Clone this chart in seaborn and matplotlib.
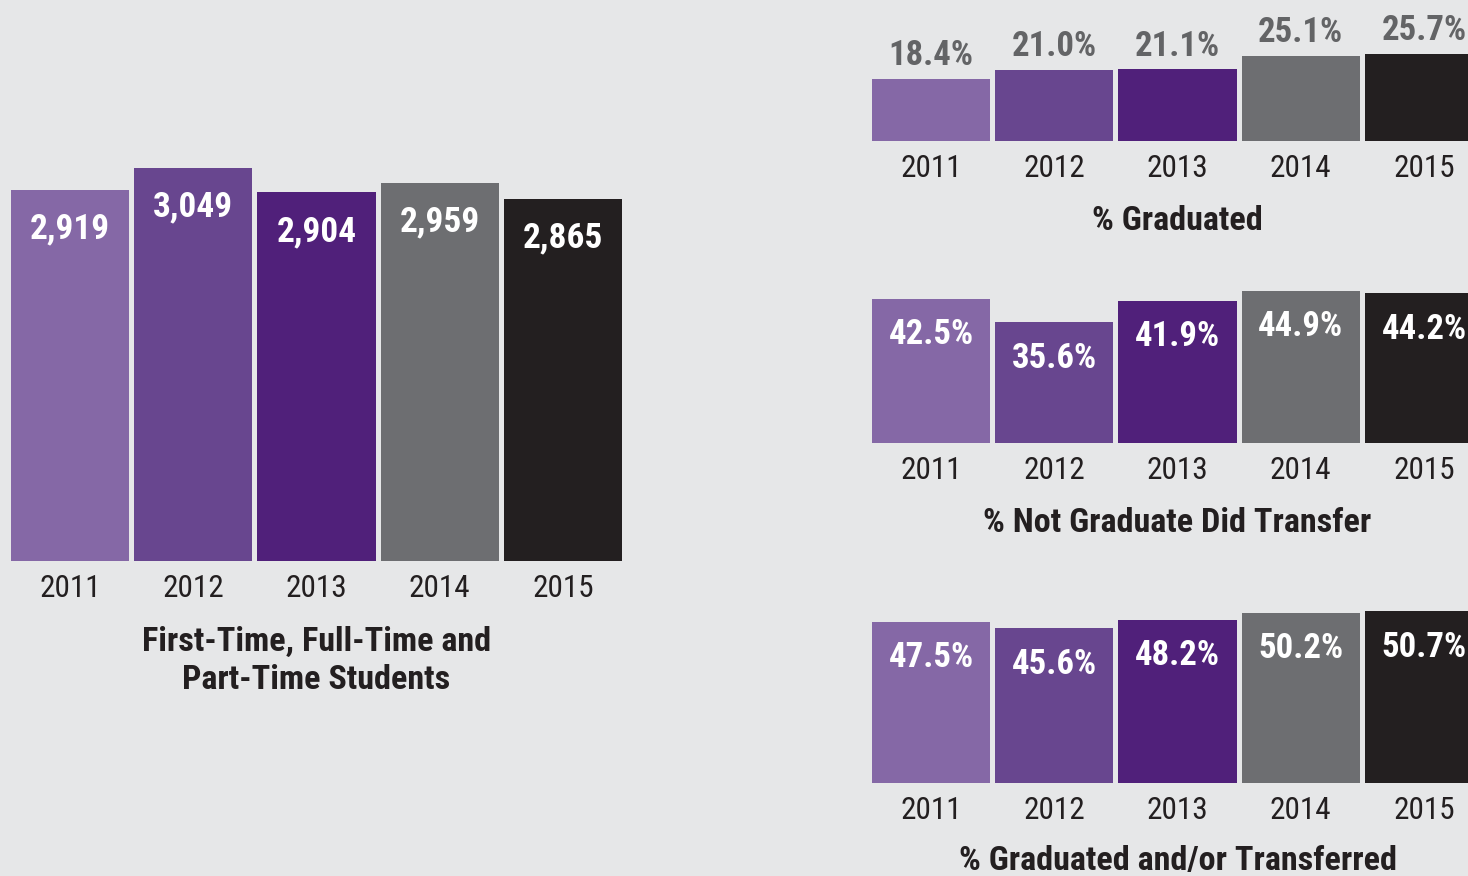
import matplotlib
matplotlib.use('Agg')
import matplotlib.pyplot as plt
import seaborn as sns
import pandas as pd

# data
years = ['2011', '2012', '2013', '2014', '2015']
students = [2919, 3049, 2904, 2959, 2865]
pct_graduated = [18.4, 21.0, 21.1, 25.1, 25.7]
pct_transfer = [42.5, 35.6, 41.9, 44.9, 44.2]
pct_grad_or_transfer = [47.5, 45.6, 48.2, 50.2, 50.7]

titles_right = ['% Graduated', '% Not Graduate Did Transfer', '% Graduated and/or Transferred']
title_left = 'First-Time, Full-Time and\nPart-Time Students'

bar_colors = ['#8568a6', '#68468f', '#50207a', '#6d6e71', '#231f20']
bg = '#e6e7e8'
dark = '#231f20'
gray_txt = '#636466'

sns.set_style('white')
plt.rcParams['font.family'] = ['Roboto Condensed', 'Roboto', 'DejaVu Sans']

W, H = 1468, 876
PT = 0.72  # points per pixel at dpi 100

fig = plt.figure(figsize=(W / 100, H / 100), dpi=100, facecolor=bg)


def px_axes(x0, y0, x1, y1):
    return fig.add_axes([x0 / W, 1 - y1 / H, (x1 - x0) / W, (y1 - y0) / H])


def draw_bars(ax, values, ymin, px_per_unit, height_px):
    df = pd.DataFrame({'year': years, 'value': values})
    sns.barplot(data=df, x='year', y='value', hue='year', palette=bar_colors,
                saturation=1, width=0.96, legend=False, linewidth=0, ax=ax)
    ax.set_xlim(-0.5, 4.5)
    ax.set_ylim(ymin, ymin + height_px / px_per_unit)
    ax.set_facecolor('none')
    for s in ax.spines.values():
        s.set_visible(False)
    ax.set_yticks([])
    ax.set_xlabel('')
    ax.set_ylabel('')
    ax.tick_params(axis='x', length=0, pad=13 * PT, labelsize=22.5, labelcolor=dark)


def value_labels(ax, values, fmt, offset_px, color, size):
    for i, v in enumerate(values):
        ax.annotate(fmt(v), xy=(i, v), xytext=(0, offset_px * PT), textcoords='offset points',
                    ha='center', va='center', color=color, fontsize=size, fontweight='bold')


def title_below(ax, text, offset_px):
    ax.annotate(text, xy=(0.5, 0), xycoords='axes fraction', xytext=(0, -offset_px * PT),
                textcoords='offset points', ha='center', va='center', color=dark,
                fontsize=24.6, fontweight='bold', linespacing=1.27)


# left chart
ax_l = px_axes(8.4, 100, 624.6, 561)
draw_bars(ax_l, students, 710, 0.168, 461)
value_labels(ax_l, students, lambda v: f'{v:,}', -39, 'white', 25.5)
title_below(ax_l, title_left, 100)

# right charts
scale = 3.39
x0, x1 = 869.4, 1485.7
ax_t = px_axes(x0, 0, x1, 141)
draw_bars(ax_t, pct_graduated, 0, scale, 141)
value_labels(ax_t, pct_graduated, lambda v: f'{v:.1f}%', 23, gray_txt, 25)
title_below(ax_t, titles_right[0], 80)

ax_m = px_axes(x0, 250, x1, 443)
draw_bars(ax_m, pct_transfer, 0, scale, 193)
value_labels(ax_m, pct_transfer, lambda v: f'{v:.1f}%', -36, 'white', 25)
title_below(ax_m, titles_right[1], 80)

ax_b = px_axes(x0, 590, x1, 783)
draw_bars(ax_b, pct_grad_or_transfer, 0, scale, 193)
value_labels(ax_b, pct_grad_or_transfer, lambda v: f'{v:.1f}%', -36, 'white', 25)
title_below(ax_b, titles_right[2], 78)

fig.savefig('out.png', dpi=100, facecolor=bg)
